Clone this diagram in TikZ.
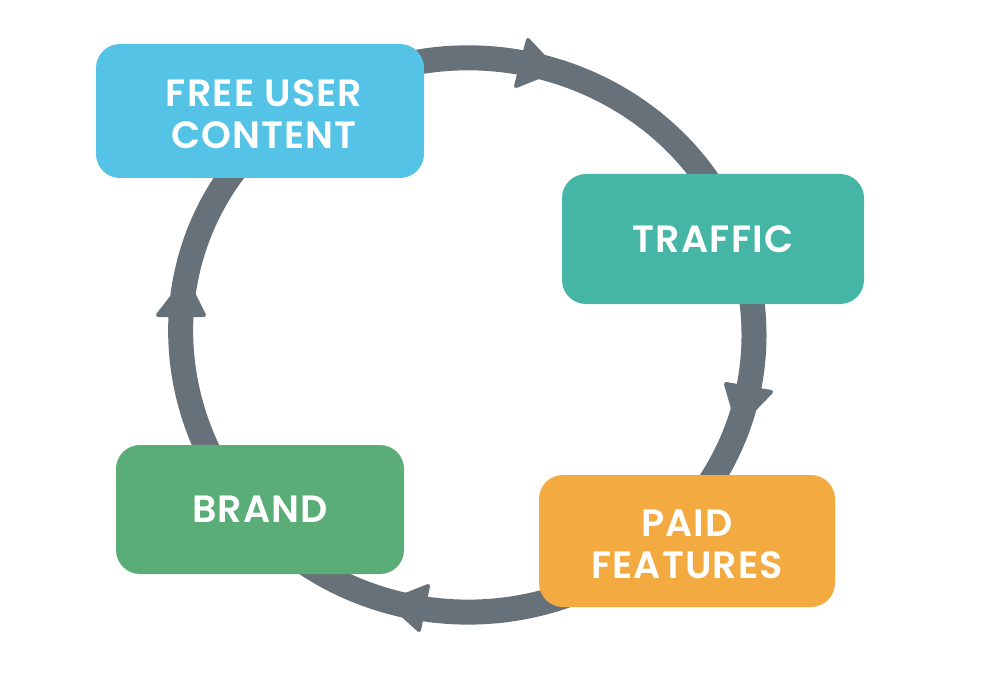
\documentclass[tikz,border=0pt]{standalone}
\usepackage{fontspec}
\setmainfont{Poppins}[UprightFont=* SemiBold]
\usetikzlibrary{backgrounds}
\definecolor{flowgray}{HTML}{67717A}
\definecolor{cblue}{HTML}{54C3E6}
\definecolor{cteal}{HTML}{45B5A5}
\definecolor{corange}{HTML}{F3AA41}
\definecolor{cgreen}{HTML}{5BAD78}
\tikzset{
  card/.style={rounded corners=24pt,inner sep=0pt,text=white,align=center,
    font=\fontsize{38}{42}\selectfont\addfontfeatures{LetterSpace=3},anchor=center},
  flow/.style={draw=flowgray,line width=25pt},
  head/.style={fill=flowgray,draw=flowgray,line width=4pt,line join=round}
}
\begin{document}
\begin{tikzpicture}[x=1pt,y=-1pt]
\useasboundingbox (0,0) rectangle (983,698);
\node[card,fill=cblue,minimum width=328pt,minimum height=134pt] (free) at (260,111) {\rule{0pt}{33pt}\hspace*{8pt}FREE USER\\\hspace*{8pt}CONTENT};
\node[card,fill=cteal,minimum width=302pt,minimum height=130pt] (traffic) at (713,239) {TRAFFIC};
\node[card,fill=corange,minimum width=296pt,minimum height=132pt] (paid) at (687,541) {\rule{0pt}{33pt}PAID\\FEATURES};
\node[card,fill=cgreen,minimum width=288pt,minimum height=129pt] (brand) at (260,509.5) {BRAND};
\coordinate (freeout) at ([shift={(-30,23.4)}]free.north east);
\coordinate (trafficin) at ([shift={(4.7,22.5)}]traffic.north);
\coordinate (trafficout) at ([shift={(38,-9)}]traffic.south);
\coordinate (paidin) at ([shift={(18,15)}]paid.north);
\coordinate (paidout) at ([shift={(41,-17)}]paid.south west);
\coordinate (brandin) at ([shift={(44,-12)}]brand.south);
\coordinate (brandout) at ([shift={(-50,10)}]brand.north);
\coordinate (freein) at ([shift={(-25.7,-8)}]free.south);
\begin{scope}[on background layer]
\draw[flow] (freeout) .. controls (519.1,34.9) and (653,87.9) .. (trafficin);
\draw[flow] (trafficout) .. controls (761.3,363.4) and (745,432.6) .. (paidin);
\draw[flow] (paidout) .. controls (489.2,627.4) and (384.8,616.7) .. (brandin);
\draw[flow] (brandout) .. controls (164.1,362.1) and (171.9,252.8) .. (freein);
\fill[head] (528,40) -- (516,86) -- (556,70) -- cycle;
\fill[head] (771,392) -- (726,384) -- (738,426) -- cycle;
\fill[head] (428,586) -- (419,630) -- (388,602) -- cycle;
\fill[head] (158,315) -- (204,315) -- (186,279) -- cycle;
\end{scope}
\end{tikzpicture}
\end{document}
